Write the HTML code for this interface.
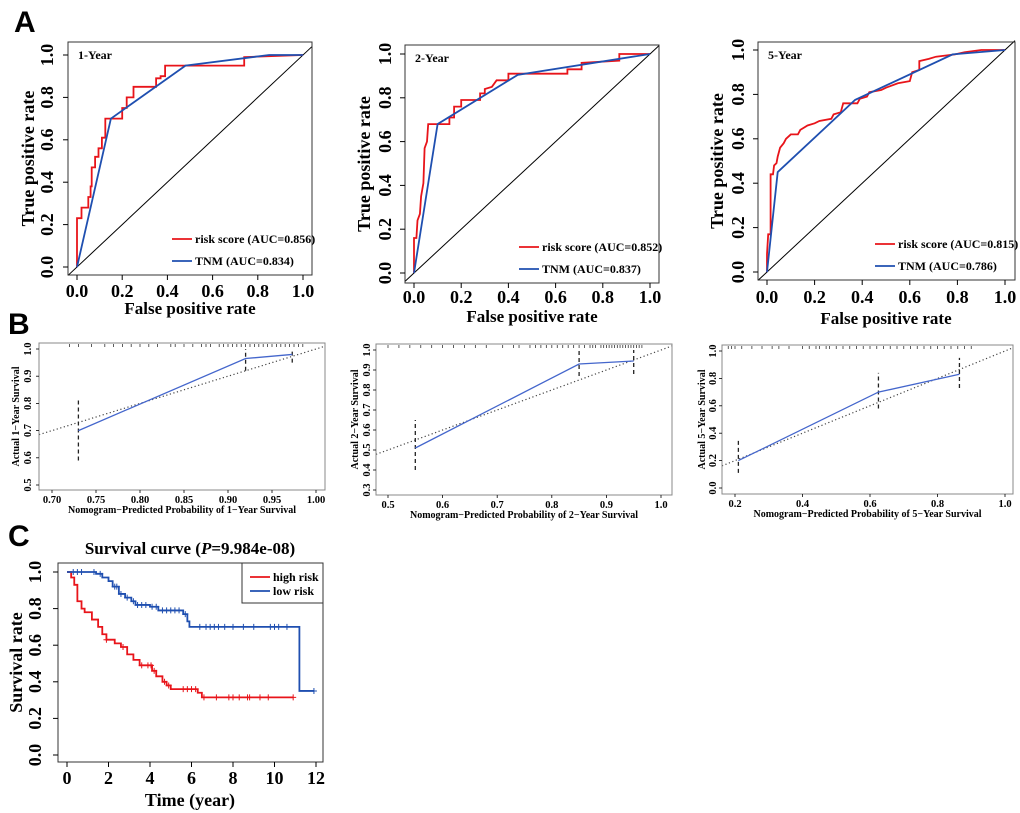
<!DOCTYPE html>
<html><head><meta charset="utf-8">
<style>
html,body{margin:0;padding:0;background:#fff;}
svg{display:block;}
text{font-family:"Liberation Serif",serif;font-weight:bold;fill:#000;}
.pl{font-family:"Liberation Sans",sans-serif;font-weight:bold;font-size:30px;}
</style></head>
<body>
<svg id="fig" width="1020" height="813" viewBox="0 0 1020 813" xmlns="http://www.w3.org/2000/svg">
<text class="pl" x="14" y="32">A</text>
<text class="pl" x="8" y="334">B</text>
<text class="pl" x="8" y="546">C</text>
</svg>
<script>
// ---------- ROC data ----------
const roc1Risk = [[0,0],[0,0.23],[0.02,0.23],[0.02,0.28],[0.05,0.28],[0.05,0.33],[0.06,0.33],[0.06,0.38],[0.065,0.38],[0.065,0.47],[0.08,0.47],[0.08,0.52],[0.095,0.52],[0.095,0.56],[0.11,0.56],[0.11,0.61],[0.125,0.61],[0.125,0.70],[0.2,0.70],[0.2,0.75],[0.22,0.75],[0.22,0.80],[0.25,0.80],[0.25,0.85],[0.35,0.85],[0.35,0.89],[0.37,0.89],[0.37,0.90],[0.39,0.90],[0.39,0.95],[0.74,0.95],[0.74,0.99],[1,1]];
const roc1Tnm = [[0,0],[0.15,0.70],[0.48,0.95],[0.85,1.0],[1,1]];
const roc2Risk = [[0,0],[0,0.16],[0.01,0.16],[0.015,0.24],[0.025,0.27],[0.03,0.35],[0.04,0.41],[0.045,0.57],[0.055,0.60],[0.06,0.68],[0.15,0.68],[0.15,0.71],[0.17,0.71],[0.17,0.76],[0.2,0.76],[0.2,0.79],[0.28,0.79],[0.28,0.82],[0.3,0.82],[0.3,0.84],[0.33,0.85],[0.35,0.88],[0.4,0.88],[0.4,0.91],[0.65,0.91],[0.65,0.93],[0.71,0.93],[0.71,0.96],[0.87,0.97],[0.87,1.0],[1,1]];
const roc2Tnm = [[0,0],[0.1,0.68],[0.44,0.905],[1,1]];
const roc3Risk = [[0,0],[0,0.08],[0.005,0.17],[0.015,0.17],[0.015,0.44],[0.025,0.44],[0.03,0.48],[0.04,0.49],[0.045,0.52],[0.055,0.56],[0.07,0.58],[0.08,0.60],[0.1,0.62],[0.13,0.62],[0.14,0.64],[0.17,0.66],[0.2,0.67],[0.22,0.68],[0.27,0.69],[0.28,0.71],[0.31,0.72],[0.32,0.76],[0.38,0.76],[0.39,0.78],[0.42,0.79],[0.43,0.81],[0.48,0.82],[0.5,0.83],[0.55,0.85],[0.6,0.86],[0.61,0.9],[0.64,0.91],[0.64,0.95],[0.68,0.96],[0.71,0.97],[0.79,0.98],[0.83,0.99],[0.9,1.0],[1,1]];
const roc3Tnm = [[0,0],[0.045,0.45],[0.37,0.775],[0.78,0.98],[1,1]];
const rocTicks = [0,0.2,0.4,0.6,0.8,1.0];
const rocTickLabels = ["0.0","0.2","0.4","0.6","0.8","1.0"];
const rocTitles = ["1-Year","2-Year","5-Year"];
const rocRiskAUC = ["0.856","0.852","0.815"];
const rocTnmAUC = ["0.834","0.837","0.786"];

// ---------- Calibration data ----------
const cal1Pred = [0.73,0.92,0.973];
const cal1Obs = [0.70,0.965,0.98];
const cal1Lo = [0.59,0.92,0.95];
const cal1Hi = [0.82,1.0,1.0];
const cal2Pred = [0.55,0.85,0.95];
const cal2Obs = [0.51,0.93,0.945];
const cal2Lo = [0.40,0.87,0.88];
const cal2Hi = [0.65,1.0,1.0];
const cal3Pred = [0.21,0.625,0.865];
const cal3Obs = [0.20,0.70,0.83];
const cal3Lo = [0.11,0.58,0.73];
const cal3Hi = [0.35,0.84,0.95];
const cal1Rug = [0.72,0.73,0.745,0.76,0.77,0.78,0.79,0.80,0.81,0.82,0.835,0.84,0.85,0.86,0.87,0.875,0.88,0.89,0.895,0.9,0.905,0.91,0.915,0.92,0.925,0.93,0.935,0.94,0.945,0.95,0.955,0.96,0.965,0.97,0.975,0.98,0.985];
const cal2Rug = [0.5,0.52,0.54,0.56,0.58,0.6,0.62,0.64,0.66,0.68,0.71,0.73,0.74,0.76,0.77,0.78,0.79,0.8,0.81,0.82,0.83,0.84,0.85,0.86,0.87,0.875,0.88,0.89,0.895,0.9,0.905,0.91,0.915,0.92,0.925,0.93,0.935,0.94,0.945,0.95,0.955,0.96,0.965];
const cal3Rug = [0.18,0.19,0.2,0.22,0.25,0.28,0.31,0.33,0.36,0.4,0.42,0.44,0.45,0.47,0.48,0.5,0.52,0.54,0.56,0.58,0.6,0.62,0.64,0.66,0.68,0.7,0.72,0.74,0.76,0.78,0.8,0.82,0.84,0.86,0.88,0.9];

// ---------- Survival data ----------
const hiTime = [0,0.2,0.35,0.5,0.7,0.85,1.2,1.5,1.7,1.9,2.3,2.6,2.9,3.2,3.5,4.1,4.3,4.6,4.8,5.0,6.3,6.5];
const hiSurv = [1.0,0.97,0.93,0.84,0.80,0.78,0.74,0.70,0.66,0.63,0.61,0.59,0.55,0.52,0.49,0.46,0.43,0.40,0.38,0.36,0.34,0.315];
const hiEnd = 10.9;
const hiCens = [1.9,2.7,3.6,3.9,4.05,4.2,4.7,4.9,5.6,5.8,6.0,6.2,6.6,7.2,7.8,8.0,8.3,8.7,8.8,9.3,9.7,10.9];
const loTime = [0,1.4,1.7,2.0,2.2,2.5,2.8,3.1,3.3,4.0,4.4,5.6,5.8,5.9,11.2];
const loSurv = [1.0,0.99,0.97,0.95,0.92,0.88,0.86,0.84,0.82,0.81,0.79,0.77,0.73,0.70,0.35];
const loEnd = 11.9;
const loCens = [0.3,0.5,0.7,1.3,1.6,2.3,2.4,2.6,2.9,3.2,3.4,3.6,3.8,4.1,4.3,4.6,4.8,5.0,5.2,5.4,5.7,6.4,6.7,6.9,7.1,7.3,7.6,8.0,8.5,9.0,9.8,10.0,10.2,10.6,11.9];
const survTicksX = [0,2,4,6,8,10,12];
const survTicksY = [0,0.2,0.4,0.6,0.8,1.0];
const survTickLabelsY = ["0.0","0.2","0.4","0.6","0.8","1.0"];

const NS = "http://www.w3.org/2000/svg";
const fig = document.getElementById('fig');
function el(tag, attrs, parent, txt){
  const e = document.createElementNS(NS, tag);
  for (const k in attrs) e.setAttribute(k, attrs[k]);
  if (txt !== undefined) e.textContent = txt;
  (parent || fig).appendChild(e);
  return e;
}
function lin(d0,d1,r0,r1){ return v => r0 + (v-d0)*(r1-r0)/(d1-d0); }
function pts(arr,sx,sy){ return arr.map(p => sx(p[0]).toFixed(1)+','+sy(p[1]).toFixed(1)).join(' '); }

// ---------- ROC panels ----------
const rocLayouts = [
  {bx0:68,bx1:312,by0:42,by1:275,x0:77,x1:303,y0:267,y1:55,tly:297,xly:314,yl:28,ytl:47},
  {bx0:405,bx1:659,by0:45,by1:283,x0:414,x1:650,y0:273,y1:54,tly:303,xly:322,yl:364,ytl:385},
  {bx0:758,bx1:1015,by0:42,by1:280,x0:767,x1:1005,y0:272,y1:50,tly:303,xly:324,yl:717,ytl:738}
];
const rocRisk = [roc1Risk,roc2Risk,roc3Risk];
const rocTnm = [roc1Tnm,roc2Tnm,roc3Tnm];
rocLayouts.forEach((L,i)=>{
  const g = el('g',{});
  
  
  const sx = lin(0,1,L.x0,L.x1), sy = lin(0,1,L.y0,L.y1);
  const dx0 = L.bx0, dx1 = L.bx1;
  const inv = px => (px-L.x0)/(L.x1-L.x0);
  const dg = el('line',{x1:dx0,y1:sy(inv(dx0)),x2:dx1,y2:sy(inv(dx1)),stroke:'#000','stroke-width':1},g);
  
  
  const box = el('rect',{x:L.bx0,y:L.by0,width:L.bx1-L.bx0,height:L.by1-L.by0,fill:'none',stroke:'#333','stroke-width':1},g);
  
  
  const r = el('polyline',{points:pts(rocRisk[i],sx,sy),fill:'none',stroke:'#e8141a','stroke-width':1.8},g);
  
  
  const t = el('polyline',{points:pts(rocTnm[i],sx,sy),fill:'none',stroke:'#1f4fb0','stroke-width':1.8},g);
  
  
  rocTicks.forEach((v,k)=>{
    el('line',{x1:sx(v),x2:sx(v),y1:L.by1,y2:L.by1+5,stroke:'#000'},g);
    const xt = el('text',{x:sx(v),y:L.tly,'text-anchor':'middle','font-size':18},g,rocTickLabels[k]);
    
    
    el('line',{x1:L.bx0-5,x2:L.bx0,y1:sy(v),y2:sy(v),stroke:'#000'},g);
    const yt = el('text',{x:0,y:0,'text-anchor':'middle','font-size':18,transform:`translate(${L.ytl+6},${sy(v)}) rotate(-90)`},g,rocTickLabels[k]);
    
    
  });
  const xl = el('text',{x:(L.x0+L.x1)/2,y:L.xly,'text-anchor':'middle','font-size':17},g,'False positive rate');
  
  
  const yl = el('text',{x:0,y:0,'text-anchor':'middle','font-size':18,transform:`translate(${L.yl+6},${(L.by0+L.by1)/2}) rotate(-90)`},g,'True positive rate');
  
  
  const ti = el('text',{x:L.bx0+10,y:L.by0+17,'font-size':12},g,rocTitles[i]);
  
  
  const lx = L.bx1-138, ly1 = L.by1-36, ly2 = L.by1-14;
  el('line',{x1:lx-2,x2:lx+18,y1:ly1,y2:ly1,stroke:'#e8141a','stroke-width':1.8},g);
  const l1 = el('text',{x:lx+21,y:ly1+4,'font-size':12},g,'risk score (AUC='+rocRiskAUC[i]+')');
  
  
  el('line',{x1:lx-2,x2:lx+18,y1:ly2,y2:ly2,stroke:'#1f4fb0','stroke-width':1.8},g);
  const l2 = el('text',{x:lx+21,y:ly2+4,'font-size':12},g,'TNM (AUC='+rocTnmAUC[i]+')');
  
  
});

// ---------- Calibration panels ----------
const calLayouts = [
  {bx0:39,bx1:325,by0:343,by1:490,xd:[0.70,1.00],xr:[52,316],yd:[0.5,1.0],yr:[485,349],xt:[0.70,0.75,0.80,0.85,0.90,0.95,1.00],xtl:["0.70","0.75","0.80","0.85","0.90","0.95","1.00"],yt:[0.5,0.6,0.7,0.8,0.9,1.0],ytl:["0.5","0.6","0.7","0.8","0.9","1.0"],yl:16,ytx:27,lab:1},
  {bx0:376,bx1:672,by0:344,by1:495,xd:[0.5,1.0],xr:[388,661],yd:[0.3,1.0],yr:[490,350],xt:[0.5,0.6,0.7,0.8,0.9,1.0],xtl:["0.5","0.6","0.7","0.8","0.9","1.0"],yt:[0.3,0.4,0.5,0.6,0.7,0.8,0.9,1.0],ytl:["0.3","0.4","0.5","0.6","0.7","0.8","0.9","1.0"],yl:355,ytx:366,lab:2},
  {bx0:722,bx1:1013,by0:345,by1:494,xd:[0.2,1.0],xr:[735,1005],yd:[0.0,1.0],yr:[488,351],xt:[0.2,0.4,0.6,0.8,1.0],xtl:["0.2","0.4","0.6","0.8","1.0"],yt:[0.0,0.2,0.4,0.6,0.8,1.0],ytl:["0.0","0.2","0.4","0.6","0.8","1.0"],yl:702,ytx:712,lab:5}
];
const calPred=[cal1Pred,cal2Pred,cal3Pred], calObs=[cal1Obs,cal2Obs,cal3Obs], calLo=[cal1Lo,cal2Lo,cal3Lo], calHi=[cal1Hi,cal2Hi,cal3Hi], calRug=[cal1Rug,cal2Rug,cal3Rug];
calLayouts.forEach((L,i)=>{
  const g = el('g',{});
  
  
  const sx = lin(L.xd[0],L.xd[1],L.xr[0],L.xr[1]), sy = lin(L.yd[0],L.yd[1],L.yr[0],L.yr[1]);
  const invx = px => L.xd[0]+(px-L.xr[0])*(L.xd[1]-L.xd[0])/(L.xr[1]-L.xr[0]);
  const a = invx(L.bx0), b = invx(L.bx1);
  const dl = el('line',{x1:L.bx0,y1:sy(a),x2:L.bx1,y2:Math.max(sy(b),L.by0),stroke:'#444','stroke-width':1.2,'stroke-dasharray':'1.2,2.5'},g);
  
  
  const box = el('rect',{x:L.bx0,y:L.by0,width:L.bx1-L.bx0,height:L.by1-L.by0,fill:'none',stroke:'#888','stroke-width':1},g);
  
  
  calRug[i].forEach(v=>{
    const rg = el('line',{x1:sx(v),x2:sx(v),y1:L.by0+1,y2:L.by0+4,stroke:'#333','stroke-width':0.8},g);
    
    
  });
  calPred[i].forEach((p,k)=>{
    const ci = el('line',{x1:sx(p),x2:sx(p),y1:sy(calLo[i][k]),y2:Math.max(sy(calHi[i][k]),L.by0+3),stroke:'#222','stroke-width':1.3,'stroke-dasharray':'4,3'},g);
    
    
  });
  const cl = el('polyline',{points:calPred[i].map((p,k)=>sx(p)+','+sy(calObs[i][k])).join(' '),fill:'none',stroke:'#4466cc','stroke-width':1.3},g);
  
  
  L.xt.forEach((v,k)=>{
    el('line',{x1:sx(v),x2:sx(v),y1:L.by1,y2:L.by1+3,stroke:'#000','stroke-width':0.8},g);
    const t = el('text',{x:sx(v),y:L.by1+13,'text-anchor':'middle','font-size':10.5},g,L.xtl[k]);
    
    
  });
  L.yt.forEach((v,k)=>{
    el('line',{x1:L.bx0-3,x2:L.bx0,y1:sy(v),y2:sy(v),stroke:'#000','stroke-width':0.8},g);
    const t = el('text',{x:0,y:0,'text-anchor':'middle','font-size':10.5,transform:`translate(${L.ytx+4},${sy(v)}) rotate(-90)`},g,L.ytl[k]);
    
    
  });
  const xl = el('text',{x:(L.bx0+L.bx1)/2,y:L.by1+23,'text-anchor':'middle','font-size':10},g,'Nomogram\u2212Predicted Probability of '+L.lab+'\u2212Year Survival');
  
  
  const yl = el('text',{x:0,y:0,'text-anchor':'middle','font-size':10,transform:`translate(${L.yl+3},${(L.by0+L.by1)/2}) rotate(-90)`},g,'Actual '+L.lab+'\u2212Year Survival');
  
  
});

// ---------- Survival panel ----------
(function(){
  const g = el('g',{});
  
  
  const B = {x0:58,x1:323,y0:563,y1:762};
  const sx = lin(0,12,67,316), sy = lin(0,1,755,572);
  const box = el('rect',{x:B.x0,y:B.y0,width:B.x1-B.x0,height:B.y1-B.y0,fill:'none',stroke:'#333','stroke-width':1},g);
  
  
  function stepPath(T,S,end){
    let d = 'M'+sx(T[0])+','+sy(S[0]);
    for (let k=1;k<T.length;k++){ d += ' H'+sx(T[k])+' V'+sy(S[k]); }
    d += ' H'+sx(end);
    return d;
  }
  function survAt(T,S,t){ let s=S[0]; for(let k=0;k<T.length;k++){ if(T[k]<=t) s=S[k]; } return s; }
  const hp = el('path',{d:stepPath(hiTime,hiSurv,hiEnd),fill:'none',stroke:'#e8141a','stroke-width':1.8},g);
  
  
  const lp = el('path',{d:stepPath(loTime,loSurv,loEnd),fill:'none',stroke:'#1f4fb0','stroke-width':1.8},g);
  
  
  hiCens.forEach(t=>{
    const y = sy(survAt(hiTime,hiSurv,t));
    const c = el('path',{d:`M${sx(t)-3},${y}H${sx(t)+3}M${sx(t)},${y-3}V${y+3}`,stroke:'#e8141a','stroke-width':1},g);
    
    
  });
  loCens.forEach(t=>{
    const y = sy(survAt(loTime,loSurv,t));
    const c = el('path',{d:`M${sx(t)-3},${y}H${sx(t)+3}M${sx(t)},${y-3}V${y+3}`,stroke:'#1f4fb0','stroke-width':1},g);
    
    
  });
  survTicksX.forEach(v=>{
    el('line',{x1:sx(v),x2:sx(v),y1:B.y1,y2:B.y1+5,stroke:'#000'},g);
    const t = el('text',{x:sx(v),y:784,'text-anchor':'middle','font-size':18},g,String(v));
    
    
  });
  survTicksY.forEach((v,k)=>{
    el('line',{x1:B.x0-5,x2:B.x0,y1:sy(v),y2:sy(v),stroke:'#000'},g);
    const t = el('text',{x:0,y:0,'text-anchor':'middle','font-size':18,transform:`translate(${41},${sy(v)}) rotate(-90)`},g,survTickLabelsY[k]);
    
    
  });
  const xl = el('text',{x:190,y:806,'text-anchor':'middle','font-size':18},g,'Time (year)');
  
  
  const yl = el('text',{x:0,y:0,'text-anchor':'middle','font-size':18,transform:`translate(22,${(B.y0+B.y1)/2}) rotate(-90)`},g,'Survival rate');
  
  
  const ti = el('text',{x:190,y:554,'text-anchor':'middle','font-size':17},g);
  
  
  el('tspan',{},ti,'Survival curve (');
  el('tspan',{'font-style':'italic'},ti,'P');
  el('tspan',{},ti,'=9.984e-08)');
  const lg = el('rect',{x:242,y:563,width:81,height:40,fill:'#fff',stroke:'#333','stroke-width':1},g);
  
  
  el('line',{x1:250,x2:270,y1:577,y2:577,stroke:'#e8141a','stroke-width':1.8},g);
  const l1 = el('text',{x:273,y:581,'font-size':12},g,'high risk');
  
  
  el('line',{x1:250,x2:270,y1:591,y2:591,stroke:'#1f4fb0','stroke-width':1.8},g);
  const l2 = el('text',{x:273,y:595,'font-size':12},g,'low risk');
  
  
})();
</script>
</body></html>
